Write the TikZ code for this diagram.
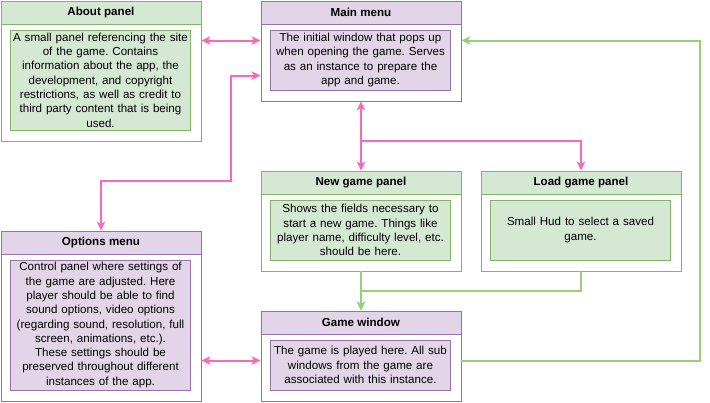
\documentclass[tikz,border=0pt]{standalone}
\usepackage{fontspec}
\setmainfont{Liberation Sans}
\usetikzlibrary{arrows.meta}
\definecolor{gfill}{HTML}{D5E8D4}
\definecolor{gline}{HTML}{82B366}
\definecolor{pfill}{HTML}{E1D5E7}
\definecolor{pline}{HTML}{9673A6}
\definecolor{pinkln}{HTML}{FF66B3}
\definecolor{greenln}{HTML}{97D077}
\frenchspacing
\hyphenpenalty=10000
\exhyphenpenalty=10000
\begin{document}
\begin{tikzpicture}[x=1pt,y=-1pt,font=\fontsize{11.6}{14.3}\selectfont,
  frame/.style={draw,fill=white,line width=0.9pt,minimum width=200pt,anchor=north west,inner sep=0pt},
  head/.style={draw,line width=0.9pt,minimum width=200pt,minimum height=23pt,anchor=north,font=\fontsize{11.6}{14.3}\selectfont\bfseries},
  txt/.style={draw,line width=0.9pt,minimum width=180pt,text width=180pt,inner sep=0pt,align=center},
  gbox/.style={draw=gline,fill=gfill},
  pbox/.style={draw=pline,fill=pfill},
  tip/.tip={Stealth[length=9pt,width=8.5pt,inset=2.5pt]},
  pinkarr/.style={draw=pinkln,line width=2pt,tip-tip},
  pinkone/.style={draw=pinkln,line width=2pt,-tip},
  greenarr/.style={draw=greenln,line width=2pt,-tip}]
  \useasboundingbox (0,0) rectangle (710,402);
  % panels
  \node[frame,draw=gline,minimum height=140pt] (about) at (0.5,0.5) {};
  \node[head,gbox] (abouthd) at (about.north) {About panel};
  \node[txt,gbox,minimum height=100pt] (abouttxt) at (100.5,80) {A small panel referencing the site\\ of the game. Contains\\ information about the app, the\\ development, and copyright\\ restrictions, as well as credit to\\ third party content that is being\\ used.};
  \node[frame,draw=pline,minimum height=100pt] (main) at (260.5,0.5) {};
  \node[head,pbox] (mainhd) at (main.north) {Main menu};
  \node[txt,pbox,minimum height=60pt] (maintxt) at (360.5,60) {The initial window that pops up\\ when opening the game. Serves\\ as an instance to prepare the\\ app and game.};
  \node[frame,draw=gline,minimum height=100pt] (newg) at (260.5,170.5) {};
  \node[head,gbox] (newghd) at (newg.north) {New game panel};
  \node[txt,gbox,minimum height=60pt] (newgtxt) at (360.5,230) {Shows the fields necessary to\\ start a new game. Things like\\ player name, difficulty level, etc.\\ should be here.};
  \node[frame,draw=gline,minimum height=100pt] (load) at (480.5,170.5) {};
  \node[head,gbox] (loadhd) at (load.north) {Load game panel};
  \node[txt,gbox,minimum height=60pt] (loadtxt) at (580.5,230) {Small Hud to select a saved\\ game.};
  \node[frame,draw=pline,minimum height=170pt] (options) at (0.5,230.5) {};
  \node[head,pbox] (optionshd) at (options.north) {Options menu};
  \node[txt,pbox,minimum height=130pt] (optionstxt) at (100.5,325) {Control panel where settings of\\ the game are adjusted. Here\\ player should be able to find\\ sound options, video options\\ (regarding sound, resolution, full\\ screen, animations, etc.).\\ These settings should be\\ preserved throughout different\\ instances of the app.};
  \node[frame,draw=pline,minimum height=90pt] (game) at (260.5,310.5) {};
  \node[head,pbox] (gamehd) at (game.north) {Game window};
  \node[txt,pbox,minimum height=50pt] (gametxt) at (360.5,365) {The game is played here. All sub\\ windows from the game are\\ associated with this instance.};
  % connectors
  \draw[pinkarr] (about.east |- 0,40.5) -- (main.west |- 0,40.5);
  \draw[pinkarr] (main.west |- 0,75.5) -- (231,75.5) -- (231,180.5) -| (options.north);
  \draw[pinkarr] (main.south) -- (newg.north);
  \draw[pinkone] (main.south) ++(0,40) -| (load.north);
  \draw[pinkarr] (options.east |- 0,360.5) -- (game.west |- 0,360.5);
  \draw[greenarr] (newg.south) -- (game.north);
  \draw[greenarr] (load.south) -- ++(0,20) -| (game.north);
  \draw[greenarr] (game.east |- 0,360.5) -- (700,360.5) -- (700,40.5) -- (main.east |- 0,40.5);
\end{tikzpicture}
\end{document}
